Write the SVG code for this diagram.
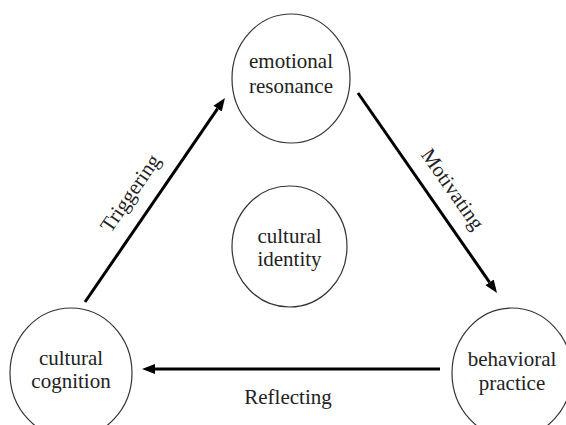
<svg xmlns="http://www.w3.org/2000/svg" width="566" height="425" viewBox="0 0 566 425" font-family="Liberation Serif, serif">
<style>
.node ellipse{fill:#fff;stroke:#333;stroke-width:1.2}
.t{font-size:21px;fill:#222;text-anchor:middle;font-family:'Liberation Serif',serif}
.conn line{stroke:#000;stroke-width:3}
</style>
<defs>
<marker id="ah" markerUnits="userSpaceOnUse" markerWidth="14" markerHeight="12" refX="0" refY="5" orient="auto" viewBox="0 0 14 10">
<path d="M0,0 L13,5 L0,10 Z" fill="#000"/>
</marker>
</defs>
<rect width="566" height="425" fill="#fff"/>
<g id="emotional-resonance" class="node">
<ellipse cx="291" cy="78.5" rx="59" ry="64.5"/>
<text class="t" x="291" y="68">emotional</text>
<text class="t" x="291" y="93">resonance</text>
</g>
<g id="cultural-identity" class="node">
<ellipse cx="289.5" cy="246.5" rx="57.5" ry="60.5"/>
<text class="t" x="289.5" y="243">cultural</text>
<text class="t" x="289.5" y="266">identity</text>
</g>
<g id="cultural-cognition" class="node">
<ellipse cx="71" cy="373" rx="61" ry="65"/>
<text class="t" x="71" y="365">cultural</text>
<text class="t" x="71" y="388">cognition</text>
</g>
<g id="behavioral-practice" class="node">
<ellipse cx="512" cy="373" rx="60" ry="65"/>
<text class="t" x="512" y="366">behavioral</text>
<text class="t" x="512" y="390">practice</text>
</g>
<g class="conn">
<line x1="85" y1="302" x2="217.6" y2="108.7" marker-end="url(#ah)"/>
<line x1="358" y1="93" x2="489.6" y2="282.3" marker-end="url(#ah)"/>
<line x1="440" y1="369" x2="155" y2="369" marker-end="url(#ah)"/>
</g>
<text class="t" x="0" y="0" transform="translate(136,197) rotate(-55.5)">Triggering</text>
<text class="t" x="0" y="0" transform="translate(447,193) rotate(55.2)">Motivating</text>
<text class="t" x="288" y="404">Reflecting</text>
</svg>
